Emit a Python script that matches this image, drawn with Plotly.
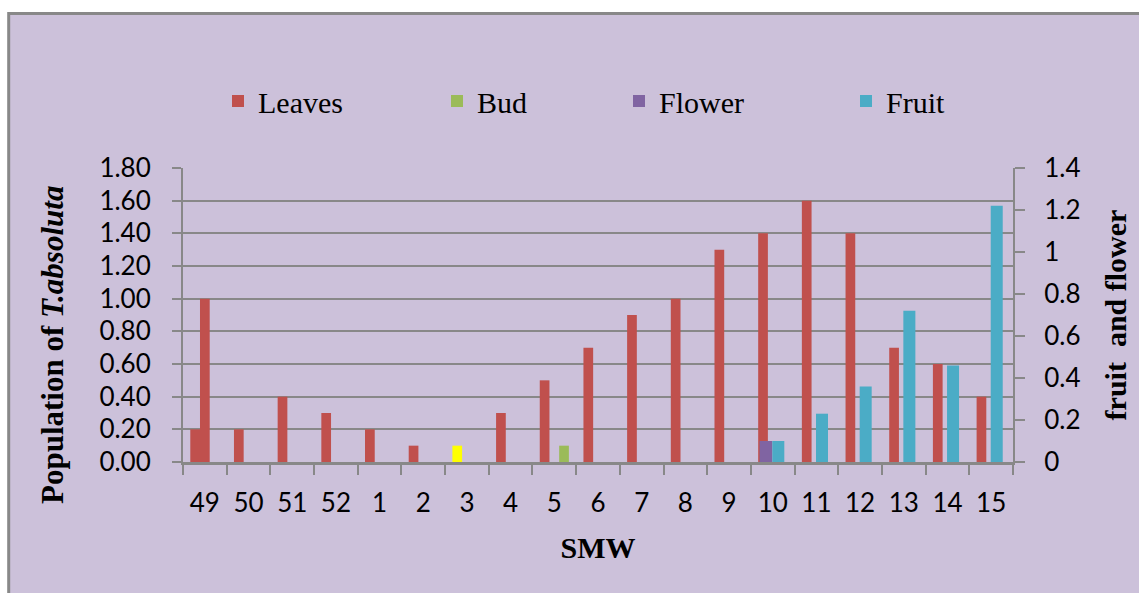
import plotly.graph_objects as go

# ---- data ----
smw = ["49", "50", "51", "52", "1", "2", "3", "4", "5", "6", "7", "8", "9", "10", "11", "12", "13", "14", "15"]
leaves = [0.2, 0.2, 0.4, 0.3, 0.2, 0.1, 0.1, 0.3, 0.5, 0.7, 0.9, 1.0, 1.3, 1.4, 1.6, 1.4, 0.7, 0.6, 0.4]
leaves_extra = [1.0, None, None, None, None, None, None, None, None, None, None, None, None, None, None, None, None, None, None]
bud = [None, None, None, None, None, None, None, None, 0.1, None, None, None, None, None, None, None, None, None, None]
flower = [None, None, None, None, None, None, None, None, None, None, None, None, None, 0.1, None, None, None, None, None]
fruit = [None, None, None, None, None, None, None, None, None, None, None, None, None, 0.1, 0.23, 0.36, 0.72, 0.46, 1.22]

RED = "#C0504D"
GREEN = "#9BBB59"
PURPLE = "#8064A2"
CYAN = "#4BACC6"
YELLOW = "#FFFF00"
BG = "#CCC1DA"
GRID = "#888888"

leaf_colors = [YELLOW if c == "3" else RED for c in smw]

W, H = 1139, 593
L, R, T, B = 183, 126, 168, 131
PW, PH = W - L - R, H - T - B

def px_x(px):
    return (px - L) / PW

def px_y(py):
    return (H - B - py) / PH

fig = go.Figure()
fig.add_trace(go.Bar(x=smw, y=leaves, name="Leaves", marker=dict(color=leaf_colors, line=dict(width=0)),
                     offset=-1/3, width=2/9, legend="legend"))
fig.add_trace(go.Bar(x=smw, y=leaves_extra, name="Leaves", marker=dict(color=RED, line=dict(width=0)),
                     offset=-1/9, width=2/9, showlegend=False))
fig.add_trace(go.Bar(x=smw, y=bud, name="Bud", marker=dict(color=GREEN, line=dict(width=0)),
                     offset=1/9, width=2/9, legend="legend2"))
fig.add_trace(go.Bar(x=smw, y=flower, name="Flower", marker=dict(color=PURPLE, line=dict(width=0)),
                     offset=-0.3, width=0.29, yaxis="y2", legend="legend3"))
fig.add_trace(go.Bar(x=smw, y=fruit, name="Fruit", marker=dict(color=CYAN, line=dict(width=0)),
                     offset=-0.01, width=0.275, yaxis="y2", legend="legend4"))

tickfont = dict(family="Lato", size=26, color="#000000")
serif = "Liberation Serif, Times New Roman, serif"
legfont = dict(family=serif, size=30, color="#000000")

def leg(xpx):
    return dict(x=xpx / W, y=1 - 101 / H, xref="container", yref="container", xanchor="left", yanchor="middle",
                orientation="h", bgcolor="rgba(0,0,0,0)", font=legfont, itemwidth=30)

fig.update_layout(
    width=W, height=H,
    margin=dict(l=L, r=R, t=T, b=B, autoexpand=False),
    font=dict(family=serif, size=30, color="#000000"),
    paper_bgcolor="#FFFFFF",
    plot_bgcolor="rgba(0,0,0,0)",
    barmode="overlay",
    showlegend=True,
    legend=leg(218),
    legend2=leg(437),
    legend3=leg(619),
    legend4=leg(846),
    xaxis=dict(type="category", categoryorder="array", categoryarray=smw, tickfont=tickfont,
               showline=True, linecolor=GRID, linewidth=3, ticks="outside", tickson="boundaries",
               ticklen=10, tickwidth=2, tickcolor=GRID, showgrid=False, ticklabelstandoff=16,
               title=dict(text="<b>SMW</b>", font=dict(family=serif, size=30, color="#000000"), standoff=20)),
    yaxis=dict(range=[0, 1.8], dtick=0.2, tick0=0, tickformat=".2f", tickfont=tickfont,
               showline=True, linecolor=GRID, linewidth=2, ticks="outside", ticklen=9, tickwidth=2,
               tickcolor=GRID, showgrid=True, gridcolor=GRID, gridwidth=2, zeroline=False,
               ticklabelstandoff=16),
    yaxis2=dict(range=[0, 1.4], dtick=0.2, tick0=0, overlaying="y", side="right", tickfont=tickfont,
                showline=True, linecolor=GRID, linewidth=2, ticks="outside", ticklen=10, tickwidth=2,
                tickcolor=GRID, showgrid=False, zeroline=False, ticklabelstandoff=14,
                title=dict(text="<b>fruit\u00a0 and flower</b>", font=dict(family=serif, size=30, color="#000000"),
                           standoff=26)),
    annotations=[dict(text="<b>Population of <i>T.absoluta</i></b>", textangle=-90,
                      xref="paper", yref="paper", x=px_x(52), y=px_y(345),
                      xanchor="center", yanchor="middle", showarrow=False,
                      font=dict(family=serif, size=31, color="#000000"))],
    shapes=[dict(type="rect", xref="paper", yref="paper", layer="below",
                 x0=px_x(8.7), x1=px_x(1170), y0=px_y(620), y1=px_y(13.5),
                 fillcolor=BG, line=dict(color="#888888", width=3))],
)

fig.write_html("out.html")
